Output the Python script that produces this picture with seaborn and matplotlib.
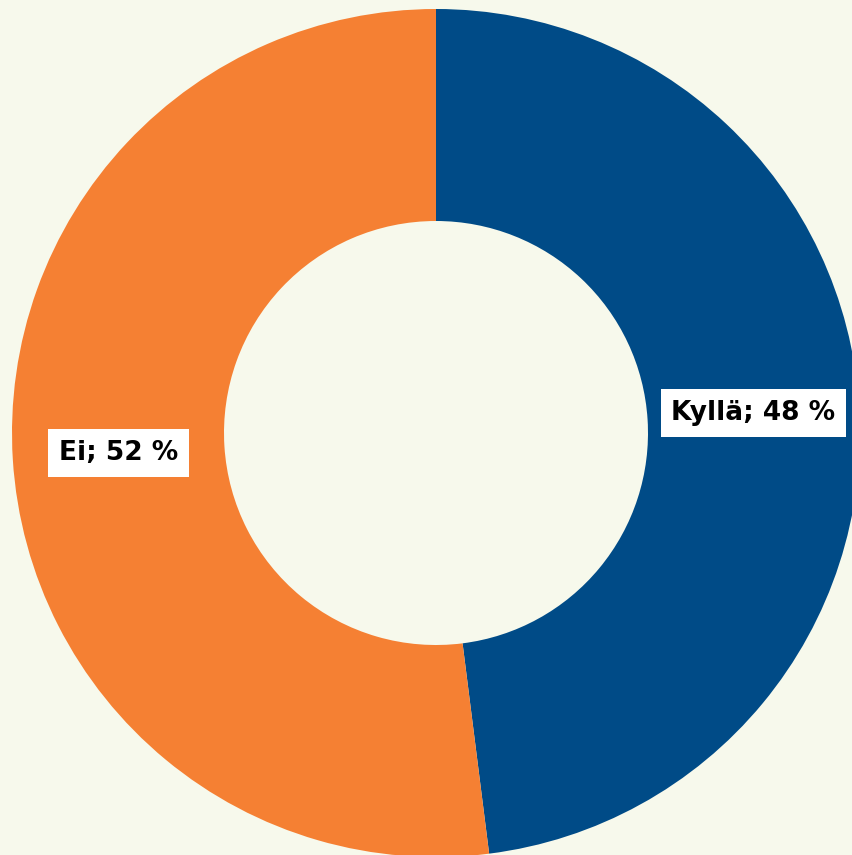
import numpy as np
import matplotlib
matplotlib.use("Agg")
import matplotlib.pyplot as plt
import seaborn as sns

labels = ["Kyllä", "Ei"]
values = [48, 52]
colors = ["#004B87", "#F58033"]
bg = "#F7F9EC"

sns.set_theme(style="white", rc={"figure.facecolor": bg, "axes.facecolor": bg})
plt.rcParams["font.family"] = ["DejaVu Sans"]

fig = plt.figure(figsize=(8.52, 8.55), dpi=100)
ax = fig.add_axes([0, 0, 1, 1])

wedges, _ = ax.pie(values, colors=sns.color_palette(colors), startangle=90,
                   counterclock=False, radius=1.0,
                   wedgeprops=dict(width=0.5, linewidth=0))

# labels in the middle of the ring
for w, lab, v in zip(wedges, labels, values):
    ang = np.deg2rad((w.theta1 + w.theta2) / 2)
    x, y = 0.75 * np.cos(ang), 0.75 * np.sin(ang)
    ax.text(x, y, f"{lab}; {v} %", ha="center", va="center",
            fontsize=19, fontweight="bold", color="black",
            bbox=dict(boxstyle="square,pad=0.4", fc="white", ec="none"))

ax.set_xlim(-436 / 424, (852 - 436) / 424)
ax.set_ylim(-422 / 424, 433 / 424)
ax.set_aspect("equal")
ax.axis("off")

fig.savefig("out.png", dpi=100, facecolor=bg)
